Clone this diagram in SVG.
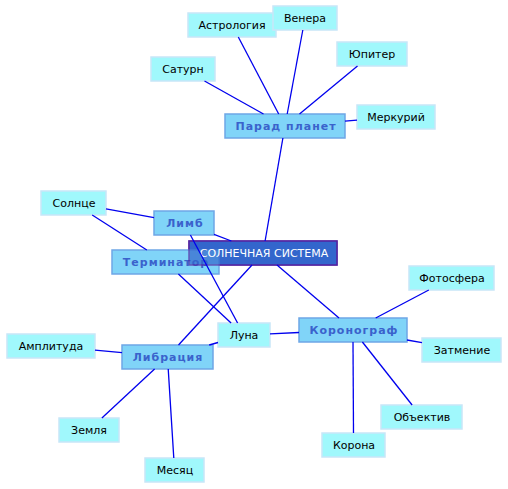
<svg xmlns="http://www.w3.org/2000/svg" width="508" height="489" viewBox="0 0 508 489">
<style>
.leaf rect{fill:#a0f8fc;stroke:#c8e6f8;stroke-width:1.5}
.leaf text{font-family:"DejaVu Sans",sans-serif;font-size:11px;fill:#000;text-anchor:middle}
.mid rect{fill:#80d4f8;stroke:#6ea6e6;stroke-width:1.5}
.mid text{font-family:"DejaVu Sans",sans-serif;font-size:11px;font-weight:bold;letter-spacing:1px;fill:#3a62cc;text-anchor:middle}
.center rect{fill:#3366cc;stroke:#5522a0;stroke-width:1.5}
.center text{font-family:"DejaVu Sans",sans-serif;font-size:11px;fill:#fff;text-anchor:middle}
#edges line{stroke:#0000ee;stroke-width:1.3}
</style>
<rect width="508" height="489" fill="#fff"/>
<g id="n-astrologiya" class="leaf"><rect x="188" y="13" width="88" height="24"/><text x="232" y="29">Астрология</text></g>
<g id="n-venera" class="leaf"><rect x="273" y="6" width="64" height="24"/><text x="305" y="22">Венера</text></g>
<g id="n-saturn" class="leaf"><rect x="151" y="57" width="64" height="24"/><text x="183" y="73">Сатурн</text></g>
<g id="n-yupiter" class="leaf"><rect x="337" y="42" width="70" height="24"/><text x="372" y="58">Юпитер</text></g>
<g id="n-merkuriy" class="leaf"><rect x="357" y="105" width="78" height="24"/><text x="396" y="121">Меркурий</text></g>
<g id="n-parad" class="mid"><rect x="225" y="114" width="120" height="24"/><text x="286" y="130">Парад планет</text></g>
<g id="n-solntse" class="leaf"><rect x="41" y="191" width="65" height="24"/><text x="74" y="207">Солнце</text></g>
<g id="n-limb" class="mid"><rect x="154" y="211" width="60" height="24"/><text x="185" y="227">Лимб</text></g>
<g id="n-center-base" class="center"><rect x="189" y="241" width="148" height="24"/></g>
<g id="n-terminator" class="mid"><rect x="112" y="250" width="107" height="24"/><text x="166" y="266">Терминатор</text></g>
<g id="n-center" class="center"><rect x="189" y="241" width="148" height="24" opacity="0.7"/><text x="264" y="257">СОЛНЕЧНАЯ СИСТЕМА</text></g>
<g id="n-luna" class="leaf"><rect x="218" y="323" width="52" height="24"/><text x="244" y="339">Луна</text></g>
<g id="n-koronograf" class="mid"><rect x="299" y="318" width="108" height="24"/><text x="354" y="334">Коронограф</text></g>
<g id="n-fotosfera" class="leaf"><rect x="409" y="266" width="85" height="24"/><text x="452" y="282">Фотосфера</text></g>
<g id="n-zatmenie" class="leaf"><rect x="422" y="338" width="79" height="24"/><text x="462" y="354">Затмение</text></g>
<g id="n-obektiv" class="leaf"><rect x="381" y="405" width="81" height="24"/><text x="422" y="421">Объектив</text></g>
<g id="n-korona" class="leaf"><rect x="322" y="433" width="63" height="24"/><text x="354" y="449">Корона</text></g>
<g id="n-amplituda" class="leaf"><rect x="7" y="334" width="88" height="24"/><text x="51" y="350">Амплитуда</text></g>
<g id="n-libratsiya" class="mid"><rect x="122" y="345" width="91" height="24"/><text x="168" y="361">Либрация</text></g>
<g id="n-zemlya" class="leaf"><rect x="59" y="418" width="60" height="24"/><text x="89" y="434">Земля</text></g>
<g id="n-mesyats" class="leaf"><rect x="145" y="458" width="59" height="24"/><text x="175" y="474">Месяц</text></g>
<g id="edges">
<line x1="263.5" y1="114" x2="204.5" y2="81"/>
<line x1="278.7" y1="114" x2="238.3" y2="37"/>
<line x1="287.2" y1="114" x2="302.8" y2="30"/>
<line x1="299.5" y1="114" x2="357.5" y2="66"/>
<line x1="345" y1="121.1" x2="357" y2="120.2"/>
<line x1="282.9" y1="138" x2="265.1" y2="241"/>
<line x1="154" y1="217.6" x2="106" y2="208.9"/>
<line x1="214" y1="234.4" x2="231.4" y2="241"/>
<line x1="190.4" y1="235" x2="237.6" y2="323"/>
<line x1="146.8" y1="250" x2="92.2" y2="215"/>
<line x1="178.4" y1="274" x2="231.1" y2="323"/>
<line x1="252" y1="265" x2="178.5" y2="345"/>
<line x1="277" y1="265" x2="339" y2="318"/>
<line x1="122" y1="352.7" x2="95" y2="350.2"/>
<line x1="154.6" y1="369" x2="101.9" y2="418"/>
<line x1="168.2" y1="369" x2="173.8" y2="458"/>
<line x1="209.2" y1="345" x2="218" y2="342.5"/>
<line x1="270" y1="333.8" x2="299" y2="332.5"/>
<line x1="375.7" y1="318" x2="428.8" y2="290"/>
<line x1="407" y1="340" x2="422" y2="342.7"/>
<line x1="362.4" y1="342" x2="412.1" y2="405"/>
<line x1="353" y1="342" x2="353.5" y2="433"/>
</g>
</svg>
